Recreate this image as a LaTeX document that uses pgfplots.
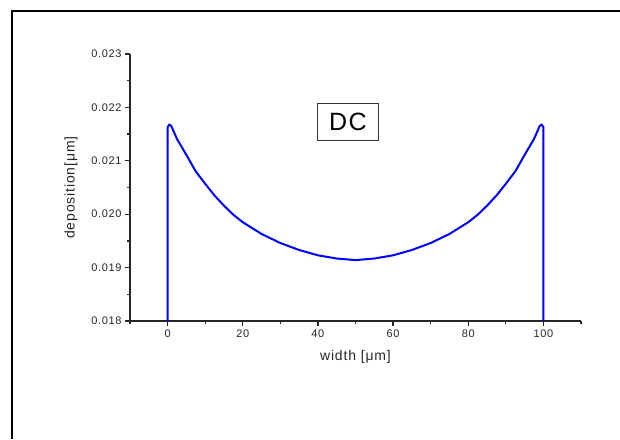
\documentclass[border=0pt]{standalone}
\usepackage{fontspec}
\setmainfont{Liberation Sans}[LetterSpace=6]
\usepackage{pgfplots}
\pgfplotsset{compat=1.18}

\begin{document}
\begin{tikzpicture}[x=1pt,y=1pt]
\useasboundingbox (0,0) rectangle (620,439);
% outer frame (only top and left edge visible)
\draw[line width=2pt, black] (11.5,0) -- (11.5,428) -- (620,428);
\begin{axis}[
  at={(130pt,118pt)}, anchor=south west,
  scale only axis,
  width=451pt, height=267pt,
  xmin=-10, xmax=110,
  ymin=0.018, ymax=0.023,
  axis lines*=left,
  axis line style={line width=1.4pt, black!85},
  tick style={line width=1.2pt, black!85},
  tick align=outside,
  major tick length=5pt,
  minor tick length=3pt,
  xtick={0,20,40,60,80,100},
  minor xtick={-10,10,30,50,70,90,110},
  ytick={0.018,0.019,0.020,0.021,0.022,0.023},
  minor ytick={0.0185,0.0195,0.0205,0.0215,0.0225},
  scaled y ticks=false,
  yticklabel style={/pgf/number format/fixed, /pgf/number format/precision=3,
    /pgf/number format/fixed zerofill},
  /pgf/number format/assume math mode=true,
  ticklabel style={font=\fontsize{11}{13}\selectfont, text=black!85},
  xlabel={width [μm]},
  ylabel={deposition[μm]},
  label style={font=\fontsize{14}{16}\selectfont, text=black!85},
  xlabel style={at={(axis description cs:0.5,-0.134)}, anchor=center},
  ylabel style={at={(axis description cs:-0.131,0.5)}, anchor=center},
  clip=false,
]
\addplot[blue, line width=2pt, line join=round] coordinates {
  (0,0.0180) (0,0.02163) (0.5,0.02168) (1,0.02165) (2.5,0.02141) (5,0.02111)
  (7.5,0.02080) (10,0.02057) (12.5,0.02035) (15,0.02016) (17.5,0.01999)
  (20,0.01985) (25,0.01963) (30,0.01946) (35,0.01933) (40,0.01923)
  (45,0.01917) (50,0.01914) (55,0.01917) (60,0.01923) (65,0.01933)
  (70,0.01946) (75,0.01963) (80,0.01985) (82.5,0.01999) (85,0.02016)
  (87.5,0.02035) (90,0.02057) (92.5,0.02080) (95,0.02111) (97.5,0.02141)
  (99,0.02165) (99.5,0.02168) (100,0.02163) (100,0.0180)
};
\node[draw=black!80, line width=0.8pt, inner sep=0pt, minimum width=61pt,
  minimum height=37pt, font=\fontsize{25}{29}\selectfont]
  at (axis cs:48,0.02172) {DC};
\end{axis}
\end{tikzpicture}
\end{document}
